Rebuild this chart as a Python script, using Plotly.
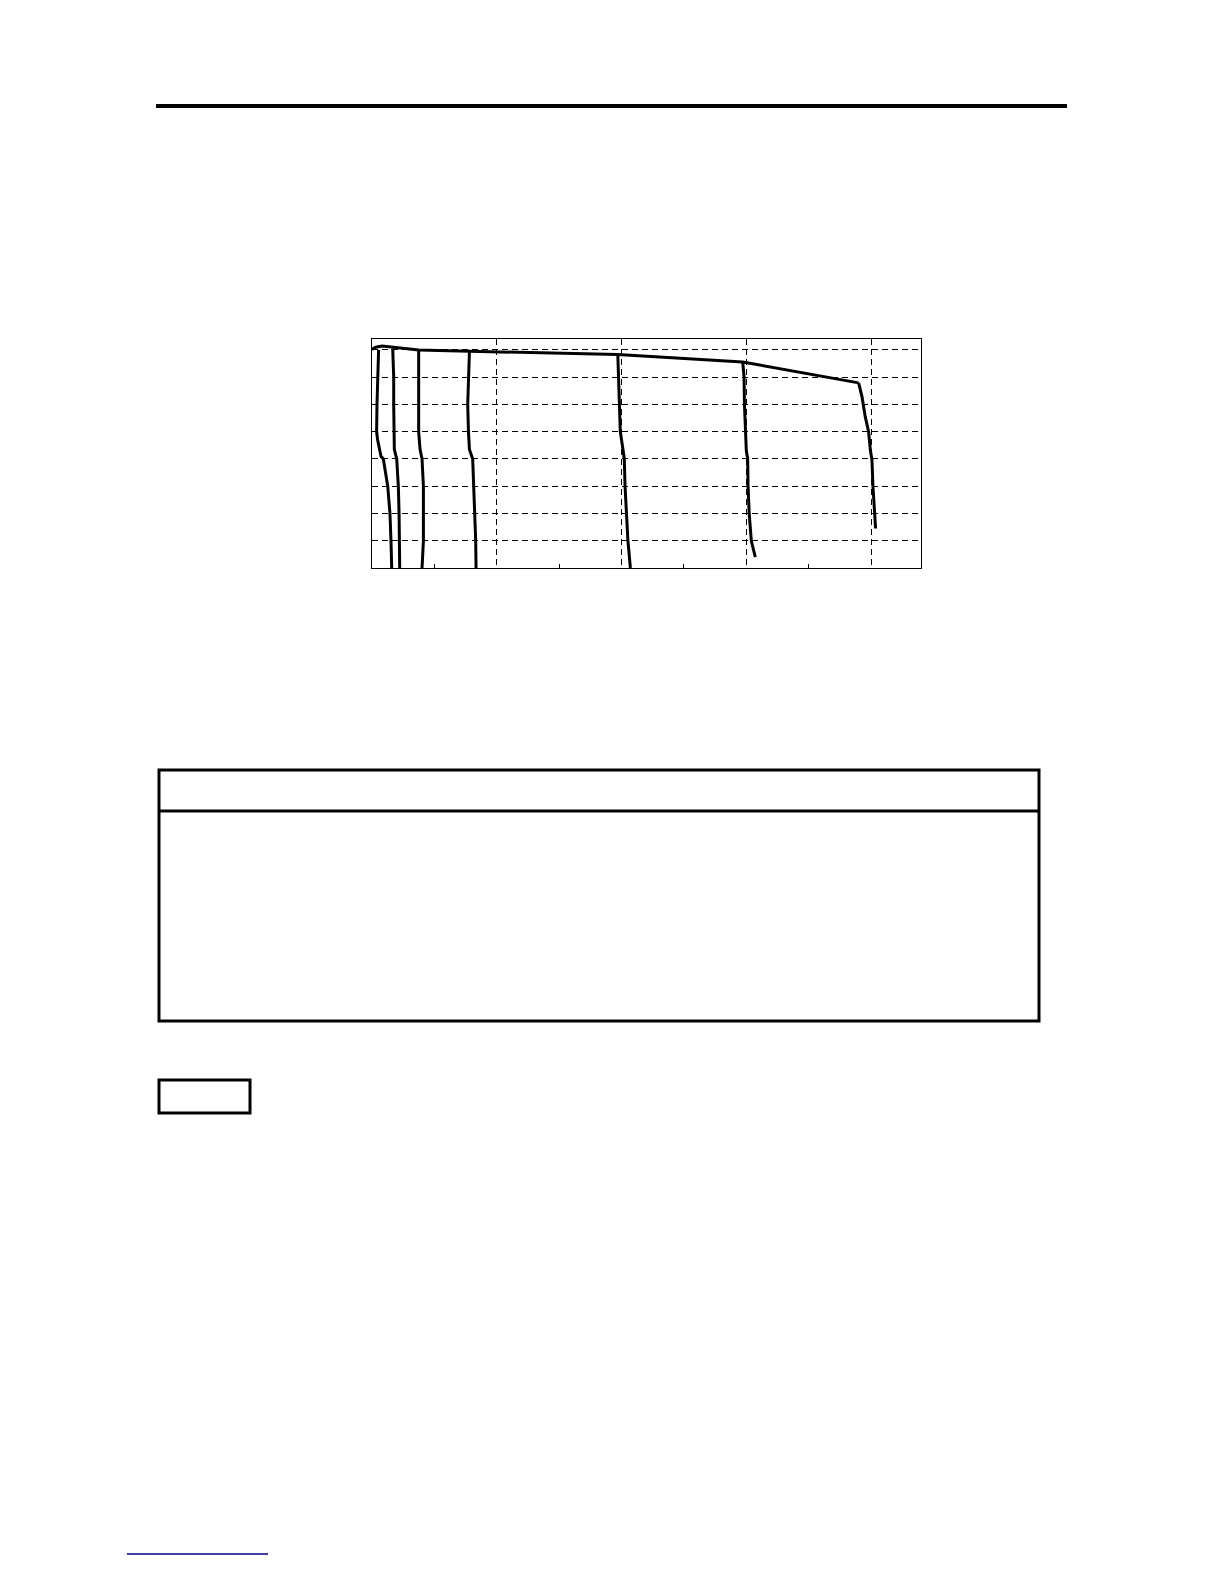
import plotly.graph_objects as go

# upper envelope of all runs
envelope_x = [0.0, 0.03, 0.08, 0.17, 0.374, 0.78, 1.97, 2.97, 3.90]
envelope_y = [8.02, 8.10, 8.14, 8.10, 8.00, 7.95, 7.83, 7.56, 6.79]

# descending branches
curve1_x = [0.053, 0.045, 0.040, 0.037, 0.045, 0.072, 0.091, 0.126, 0.144, 0.152, 0.158]
curve1_y = [8.00, 7.0, 6.0, 5.0, 4.7, 4.1, 4.0, 3.0, 2.0, 1.0, 0.0]

curve2_x = [0.166, 0.174, 0.174, 0.174, 0.179, 0.198, 0.211, 0.217, 0.219, 0.222]
curve2_y = [8.05, 7.0, 6.0, 5.0, 4.35, 4.0, 3.0, 2.0, 1.0, 0.0]

curve3_x = [0.374, 0.374, 0.372, 0.374, 0.385, 0.401, 0.412, 0.414, 0.412, 0.401]
curve3_y = [8.00, 7.0, 6.0, 5.0, 4.35, 4.0, 3.0, 2.0, 1.0, 0.0]

curve4_x = [0.781, 0.773, 0.767, 0.773, 0.781, 0.807, 0.816, 0.826, 0.831, 0.834]
curve4_y = [7.95, 7.0, 6.0, 5.0, 4.35, 4.0, 3.0, 2.0, 1.0, 0.0]

curve5_x = [1.970, 1.976, 1.982, 1.990, 2.013, 2.022, 2.028, 2.039, 2.051, 2.071]
curve5_y = [7.83, 7.0, 6.0, 5.0, 4.3, 4.0, 3.0, 2.0, 1.0, 0.0]

curve6_x = [2.971, 2.982, 2.985, 2.991, 3.000, 3.011, 3.014, 3.023, 3.040, 3.072]
curve6_y = [7.56, 7.0, 6.0, 5.0, 4.3, 4.0, 3.0, 2.0, 1.0, 0.40]

curve7_x = [3.900, 3.927, 3.953, 3.980, 3.994, 4.007, 4.015, 4.026, 4.036]
curve7_y = [6.79, 6.29, 5.55, 5.0, 4.33, 3.96, 3.0, 2.0, 1.45]

W, H = 1224, 1584
OFF = 8  # default body margin of the page


def px(x):
    return (x - OFF) / (W - 2 * OFF)


def py(y):
    return 1 - (y - OFF) / (H - 2 * OFF)


fig = go.Figure()

fig.add_trace(go.Scatter(x=envelope_x, y=envelope_y, mode='lines',
                         line=dict(color='black', width=3)))
curves = [
    (curve1_x, curve1_y), (curve2_x, curve2_y), (curve3_x, curve3_y),
    (curve4_x, curve4_y), (curve5_x, curve5_y), (curve6_x, curve6_y),
    (curve7_x, curve7_y),
]
for cx, cy in curves:
    fig.add_trace(go.Scatter(x=cx, y=cy, mode='lines',
                             line=dict(color='black', width=3)))

fig.update_layout(
    width=W - 2 * OFF,
    height=H - 2 * OFF,
    margin=dict(l=0, r=0, t=0, b=0),
    paper_bgcolor='white',
    plot_bgcolor='white',
    showlegend=False,
)

fig.update_xaxes(
    domain=[px(372), px(921)],
    range=[0, 4.4],
    dtick=1,
    showticklabels=False,
    showgrid=True,
    gridcolor='black',
    gridwidth=1,
    griddash='6px,4px',
    zeroline=False,
    showline=True,
    linecolor='black',
    linewidth=1,
    mirror=True,
    ticks='',
    minor=dict(dtick=0.5, ticks='inside', ticklen=4, tickcolor='black', showgrid=False),
)
fig.update_yaxes(
    domain=[py(568), py(339)],
    range=[0, 8.4],
    dtick=1,
    showticklabels=False,
    showgrid=True,
    gridcolor='black',
    gridwidth=1,
    griddash='6px,4px',
    zeroline=False,
    showline=True,
    linecolor='black',
    linewidth=1,
    mirror=True,
    ticks='inside',
    ticklen=4,
    tickcolor='black',
)

# page furniture: rule, table box, small box, link underline
fig.add_shape(type='line', xref='paper', yref='paper',
              x0=px(156), x1=px(1067), y0=py(106), y1=py(106),
              line=dict(color='black', width=4))
fig.add_shape(type='rect', xref='paper', yref='paper',
              x0=px(159), x1=px(1039), y0=py(770), y1=py(1021),
              line=dict(color='black', width=3))
fig.add_shape(type='line', xref='paper', yref='paper',
              x0=px(159), x1=px(1039), y0=py(811), y1=py(811),
              line=dict(color='black', width=3))
fig.add_shape(type='rect', xref='paper', yref='paper',
              x0=px(159), x1=px(250), y0=py(1080), y1=py(1113),
              line=dict(color='black', width=3))
fig.add_shape(type='line', xref='paper', yref='paper',
              x0=px(127), x1=px(268), y0=py(1554), y1=py(1554),
              line=dict(color='#000080', width=1.5))

fig.write_html("out.html")
